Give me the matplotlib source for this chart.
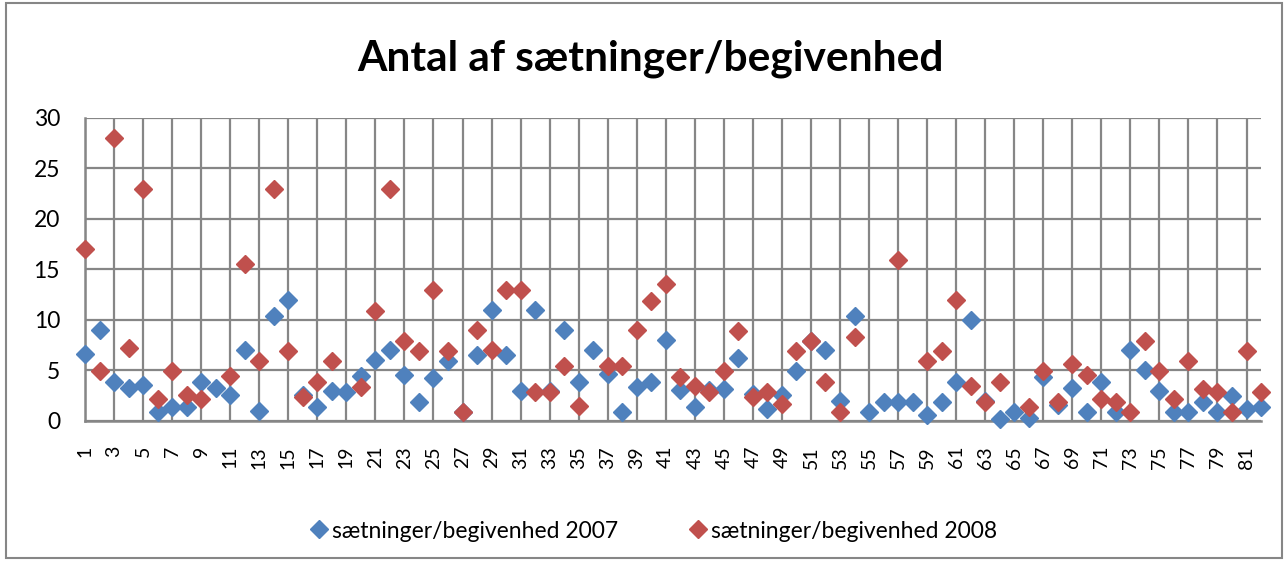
import numpy as np
import matplotlib
matplotlib.use("Agg")
import matplotlib.pyplot as plt
from matplotlib.patches import Rectangle

nan = np.nan
categories = list(range(1, 83))
s2007 = [6.6, 9.0, 3.9, 3.3, 3.6, 0.9, 1.4, 1.4, 3.9, 3.3,
         2.6, 7.0, 1.0, 10.4, 12.0, 2.6, 1.4, 3.0, 2.9, 4.5,
         6.0, 7.0, 4.6, 1.9, 4.3, 5.9, 0.9, 6.5, 11.0, 6.5,
         3.0, 11.0, 3.0, 9.0, 3.9, 7.0, 4.7, 0.9, 3.4, 3.9,
         8.0, 3.1, 1.4, 3.1, 3.2, 6.2, 2.7, 1.2, 2.6, 4.9,
         7.9, 7.0, 2.0, 10.4, 0.9, 1.9, 1.9, 1.9, 0.6, 1.9,
         3.9, 10.0, 2.0, 0.2, 0.9, 0.3, 4.4, 1.6, 3.3, 0.9,
         3.9, 0.9, 7.0, 5.0, 3.0, 0.9, 0.9, 1.9, 0.9, 2.5,
         1.2, 1.4]
s2008 = [17.0, 4.9, 28.0, 7.2, 23.0, 2.2, 4.9, 2.6, 2.2, nan,
         4.5, 15.5, 5.9, 23.0, 6.9, 2.4, 3.9, 5.9, nan, 3.4,
         10.9, 23.0, 7.9, 6.9, 13.0, 6.9, 0.9, 9.0, 7.0, 13.0,
         13.0, 2.9, 2.9, 5.4, 1.5, nan, 5.4, 5.4, 9.0, 11.9,
         13.6, 4.4, 3.5, 2.9, 4.9, 8.9, 2.4, 2.9, 1.7, 6.9,
         7.9, 3.9, 0.9, 8.3, nan, nan, 15.9, nan, 5.9, 6.9,
         12.0, 3.5, 1.9, 3.9, nan, 1.4, 4.9, 1.9, 5.6, 4.6,
         2.2, 1.9, 0.9, 7.9, 4.9, 2.2, 5.9, 3.2, 2.9, 0.9,
         6.9, 2.9]
xtick_labels = [str(v) for v in range(1, 83, 2)]
series_labels = ["sætninger/begivenhed 2007", "sætninger/begivenhed 2008"]
title = "Antal af sætninger/begivenhed"

plt.rcParams['font.family'] = ['Lato', 'DejaVu Sans']
grid_c = "#868686"
blue = "#4F81BD"
red = "#C0504D"

fig = plt.figure(figsize=(12.86, 5.61), dpi=100)
ax = fig.add_axes([0.0661, 0.2496, 0.9145, 0.5401])

ax.plot(categories, s2007, linestyle='none', marker='D', ms=9.5, color=blue,
        mec=blue, label=series_labels[0], clip_on=False, zorder=3)
ax.plot(categories, s2008, linestyle='none', marker='D', ms=9.5, color=red,
        mec=red, label=series_labels[1], clip_on=False, zorder=4)

ax.set_xlim(1, 82)
ax.set_ylim(0, 30)
ax.set_yticks(range(0, 31, 5))
ax.set_xticks(range(1, 83, 2))
ax.set_xticklabels(xtick_labels, rotation=90, fontsize=14)
ax.tick_params(axis='y', labelsize=16.5, length=0, pad=18, colors='black')
ax.tick_params(axis='x', length=0, pad=18)
ax.grid(True, color=grid_c, linewidth=1.6)
ax.set_axisbelow(True)
for side in ['top', 'right']:
    ax.spines[side].set_visible(False)
for side in ['left', 'bottom']:
    ax.spines[side].set_color(grid_c)
    ax.spines[side].set_linewidth(1.8)

fig.text(0.5055, 1 - 70 / 561, title, ha='center', va='baseline', fontsize=30.5,
         fontweight='bold')

fig.legend(loc='center', bbox_to_anchor=(0.509, 1 - 531 / 561), ncol=2, frameon=False,
           fontsize=16.5, handlelength=0.6, handletextpad=0.25, columnspacing=3.2,
           markerscale=0.95)

fig.patches.append(Rectangle((6 / 1286, 3 / 561), 1 - 10 / 1286, 1 - 6 / 561,
                             transform=fig.transFigure, fill=False,
                             edgecolor=grid_c, linewidth=1.5))

fig.savefig("out.png", dpi=100)
